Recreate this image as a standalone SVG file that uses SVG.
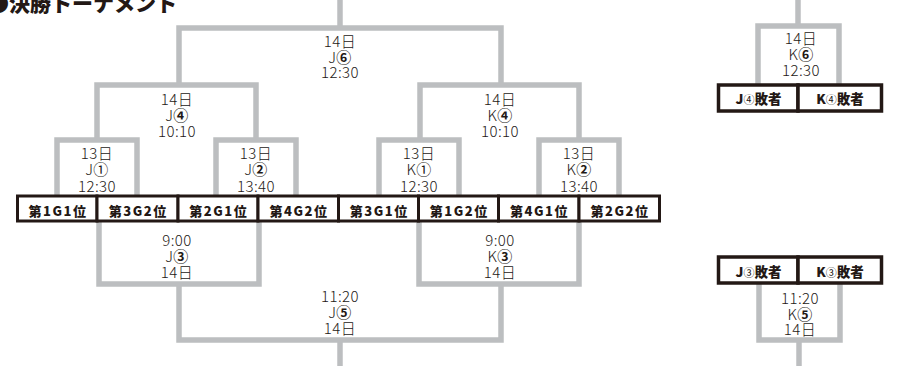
<svg xmlns="http://www.w3.org/2000/svg" width="897" height="366" viewBox="0 0 897 366">
<style>
.ln{fill:none;stroke:#bcbec0;stroke-width:5.5;stroke-linecap:butt;stroke-linejoin:miter}
.cell{fill:#fff;stroke:#231815;stroke-width:3}
.cell2{fill:#fff;stroke:#231815;stroke-width:3.5}
.ct{font-family:"Noto Sans CJK JP","Noto Sans",sans-serif;font-weight:900;font-size:13px;fill:#231815;text-anchor:middle;letter-spacing:1.5px}
.rt{font-family:"Noto Sans CJK JP","Noto Sans",sans-serif;font-weight:900;font-size:13.5px;fill:#231815;text-anchor:middle}
.lb{font-family:"Noto Sans CJK JP","Noto Sans",sans-serif;font-weight:300;font-size:15px;fill:#231815;text-anchor:middle;letter-spacing:0.4px}
.ttl{font-family:"Noto Sans CJK JP","Noto Sans",sans-serif;font-weight:900;font-size:21px;fill:#231815}
.thin{font-weight:normal}
.cd{font-weight:bold}
</style>
<rect width="897" height="366" fill="#fff"/>
<text class="ttl" x="-12" y="11">●決勝トーナメント</text>
<g id="connectors">
<path class="ln" d="M57 196V140H137V196"/>
<path class="ln" d="M216 196V140H296V196"/>
<path class="ln" d="M97 140V85H256V140"/>
<path class="ln" d="M379 196V140H459V196"/>
<path class="ln" d="M539 196V140H619V196"/>
<path class="ln" d="M420 140V85H579V140"/>
<path class="ln" d="M179 85V28H501V85"/>
<path class="ln" d="M340 28V0"/>
<path class="ln" d="M99 222V284H259V222"/>
<path class="ln" d="M419 222V284H579V222"/>
<path class="ln" d="M179 284V340H501V284"/>
<path class="ln" d="M340 340V366"/>
<path class="ln" d="M758 84V26H839V84"/>
<path class="ln" d="M798 26V0"/>
<path class="ln" d="M759 284V340H840V284"/>
<path class="ln" d="M799 340V366"/>
</g>
<g id="cells">
<g id="c1"><rect class="cell" x="17.5" y="196" width="79.5" height="25"/><text class="ct" x="58" y="215.5">第1G1位</text></g>
<g id="c2"><rect class="cell" x="97" y="196" width="81" height="25"/><text class="ct" x="138.3" y="215.5">第3G2位</text></g>
<g id="c3"><rect class="cell" x="178" y="196" width="80" height="25"/><text class="ct" x="218.8" y="215.5">第2G1位</text></g>
<g id="c4"><rect class="cell" x="258" y="196" width="80.5" height="25"/><text class="ct" x="299" y="215.5">第4G2位</text></g>
<g id="c5"><rect class="cell" x="338.5" y="196" width="80" height="25"/><text class="ct" x="379.3" y="215.5">第3G1位</text></g>
<g id="c6"><rect class="cell" x="418.5" y="196" width="80" height="25"/><text class="ct" x="459.3" y="215.5">第1G2位</text></g>
<g id="c7"><rect class="cell" x="498.5" y="196" width="80.5" height="25"/><text class="ct" x="539.5" y="215.5">第4G1位</text></g>
<g id="c8"><rect class="cell" x="579" y="196" width="80.5" height="25"/><text class="ct" x="620" y="215.5">第2G2位</text></g>
<g id="r1"><rect class="cell2" x="718.5" y="85" width="79.5" height="26"/><text class="rt" x="758.5" y="104">J<tspan class="thin" font-size="11">④</tspan>敗者</text></g>
<g id="r2"><rect class="cell2" x="798" y="85" width="83.5" height="26"/><text class="rt" x="840" y="104">K<tspan class="thin" font-size="11">④</tspan>敗者</text></g>
<g id="r3"><rect class="cell2" x="718.5" y="257" width="79.5" height="26"/><text class="rt" x="758.5" y="276.5">J<tspan class="thin" font-size="11">③</tspan>敗者</text></g>
<g id="r4"><rect class="cell2" x="798" y="257" width="83.5" height="26"/><text class="rt" x="840" y="276.5">K<tspan class="thin" font-size="11">③</tspan>敗者</text></g>
</g>
<g id="J6"><text class="lb" x="340" y="47">14日</text><text class="lb" x="340" y="62.5">J<tspan class="cd">⑥</tspan></text><text class="lb" x="340" y="78">12:30</text></g>
<g id="J4"><text class="lb" x="177" y="105">14日</text><text class="lb" x="177" y="121">J<tspan class="cd">④</tspan></text><text class="lb" x="177" y="137">10:10</text></g>
<g id="K4"><text class="lb" x="500" y="105">14日</text><text class="lb" x="500" y="121">K<tspan class="cd">④</tspan></text><text class="lb" x="500" y="137">10:10</text></g>
<g id="J1"><text class="lb" x="97" y="159">13日</text><text class="lb" x="97" y="175">J<tspan class="thin">①</tspan></text><text class="lb" x="97" y="191.5">12:30</text></g>
<g id="J2"><text class="lb" x="256" y="159">13日</text><text class="lb" x="256" y="175">J<tspan class="cd">②</tspan></text><text class="lb" x="256" y="191.5">13:40</text></g>
<g id="K1"><text class="lb" x="419" y="159">13日</text><text class="lb" x="419" y="175">K<tspan class="thin">①</tspan></text><text class="lb" x="419" y="191.5">12:30</text></g>
<g id="K2"><text class="lb" x="579" y="159">13日</text><text class="lb" x="579" y="175">K<tspan class="cd">②</tspan></text><text class="lb" x="579" y="191.5">13:40</text></g>
<g id="J3"><text class="lb" x="177" y="246">9:00</text><text class="lb" x="177" y="262">J<tspan class="cd">③</tspan></text><text class="lb" x="177" y="277.5">14日</text></g>
<g id="K3"><text class="lb" x="500" y="246">9:00</text><text class="lb" x="500" y="262">K<tspan class="cd">③</tspan></text><text class="lb" x="500" y="277.5">14日</text></g>
<g id="J5"><text class="lb" x="340" y="302">11:20</text><text class="lb" x="340" y="318">J<tspan class="cd">⑤</tspan></text><text class="lb" x="340" y="334">14日</text></g>
<g id="K6"><text class="lb" x="801" y="44">14日</text><text class="lb" x="801" y="60">K<tspan class="cd">⑥</tspan></text><text class="lb" x="801" y="76">12:30</text></g>
<g id="K5"><text class="lb" x="800" y="304">11:20</text><text class="lb" x="800" y="319.5">K<tspan class="cd">⑤</tspan></text><text class="lb" x="800" y="335">14日</text></g>
</svg>
